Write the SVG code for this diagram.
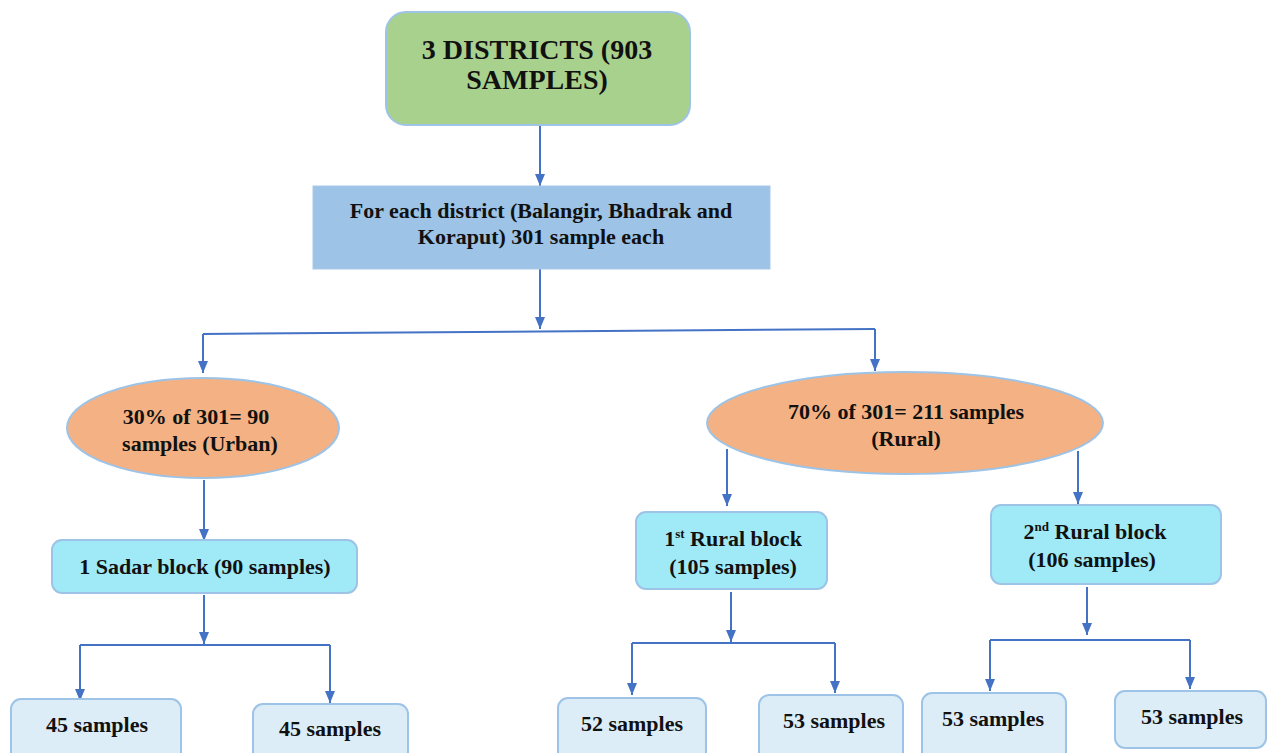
<svg xmlns="http://www.w3.org/2000/svg" width="1267" height="753" viewBox="0 0 1267 753" font-family="'Liberation Serif', Tinos, 'Times New Roman', 'DejaVu Serif', serif">
<style>
text{font-family:"Liberation Serif",Tinos,"Times New Roman","DejaVu Serif",serif;font-weight:bold;fill:#111;text-anchor:middle}
.t1{font-size:28px}
.t2{font-size:22px}
.t3{font-size:22px}
.c{stroke:#4472c4;stroke-width:2;fill:none}
.green{fill:#a9d18e;stroke:#9dc3e6;stroke-width:2}
.blue{fill:#9dc3e6;stroke:#a9c9ea;stroke-width:1}
.oval{fill:#f4b183;stroke:#9dc3e6;stroke-width:2}
.cyan{fill:#a0eaf7;stroke:#9dc3e6;stroke-width:2}
.leaf{fill:#ddedf7;stroke:#9dc3e6;stroke-width:2}
</style>
<defs>
<marker id="ah" viewBox="0 0 12 10" refX="12" refY="5" markerWidth="12" markerHeight="10" orient="auto" markerUnits="userSpaceOnUse">
<path d="M0,0 L12,5 L0,10 Z" fill="#4472c4"/>
</marker>
</defs>
<rect width="1267" height="753" fill="#ffffff"/>
<g id="connectors">
<path class="c" d="M540,126 L540,186" marker-end="url(#ah)"/>
<path class="c" d="M540,269 L540,329" marker-end="url(#ah)"/>
<path class="c" d="M203,334 L875,329"/>
<path class="c" d="M203,334 L203,373" marker-end="url(#ah)"/>
<path class="c" d="M875,329 L875,371" marker-end="url(#ah)"/>
<path class="c" d="M204,480 L204,541" marker-end="url(#ah)"/>
<path class="c" d="M727,449 L727,506" marker-end="url(#ah)"/>
<path class="c" d="M1078,451 L1078,504" marker-end="url(#ah)"/>
<path class="c" d="M204,595 L204,644" marker-end="url(#ah)"/>
<path class="c" d="M80,645 L330,645"/>
<path class="c" d="M80,645 L80,701" marker-end="url(#ah)"/>
<path class="c" d="M330,645 L330,703" marker-end="url(#ah)"/>
<path class="c" d="M731,592 L731,642" marker-end="url(#ah)"/>
<path class="c" d="M632,643 L835,643"/>
<path class="c" d="M632,643 L632,695" marker-end="url(#ah)"/>
<path class="c" d="M835,643 L835,693" marker-end="url(#ah)"/>
<path class="c" d="M1087,587 L1087,635" marker-end="url(#ah)"/>
<path class="c" d="M990,640 L1190,640"/>
<path class="c" d="M990,640 L990,691" marker-end="url(#ah)"/>
<path class="c" d="M1190,640 L1190,689" marker-end="url(#ah)"/>
</g>
<g id="n-districts">
<rect class="green" x="386" y="12" width="304" height="113" rx="20"/>
<text class="t1" x="537" y="59">3 DISTRICTS (903</text>
<text class="t1" x="537" y="89">SAMPLES)</text>
</g>
<g id="n-each">
<rect class="blue" x="313" y="186" width="457" height="83"/>
<text class="t2" x="541" y="218">For each district (Balangir, Bhadrak and</text>
<text class="t2" x="541" y="244">Koraput) 301 sample each</text>
</g>
<g id="n-urban">
<ellipse class="oval" cx="203" cy="428" rx="136" ry="50"/>
<text class="t2" x="196" y="424">30% of 301= 90</text>
<text class="t2" x="200" y="451">samples (Urban)</text>
</g>
<g id="n-rural">
<ellipse class="oval" cx="905" cy="423" rx="198" ry="51"/>
<text class="t2" x="906" y="419">70% of 301= 211 samples</text>
<text class="t2" x="906" y="446">(Rural)</text>
</g>
<g id="n-sadar">
<rect class="cyan" x="52" y="540" width="305" height="53" rx="10"/>
<text class="t2" x="205" y="574">1 Sadar block (90 samples)</text>
</g>
<g id="n-rural1">
<rect class="cyan" x="636" y="512" width="191" height="77" rx="10"/>
<text class="t2" x="733" y="546">1<tspan font-size="13" dy="-8">st</tspan><tspan dy="8"> Rural block</tspan></text>
<text class="t2" x="733" y="574">(105 samples)</text>
</g>
<g id="n-rural2">
<rect class="cyan" x="991" y="505" width="230" height="79" rx="10"/>
<text class="t2" x="1095" y="539">2<tspan font-size="13" dy="-8">nd</tspan><tspan dy="8"> Rural block</tspan></text>
<text class="t2" x="1092" y="567">(106 samples)</text>
</g>
<g id="n-l1">
<rect class="leaf" x="11" y="699" width="170" height="64" rx="10"/>
<text class="t3" x="97" y="732">45 samples</text>
</g>
<g id="n-l2">
<rect class="leaf" x="253" y="704" width="155" height="59" rx="10"/>
<text class="t3" x="330" y="736">45 samples</text>
</g>
<g id="n-l3">
<rect class="leaf" x="558" y="698" width="148" height="65" rx="10"/>
<text class="t3" x="632" y="731">52 samples</text>
</g>
<g id="n-l4">
<rect class="leaf" x="759" y="695" width="144" height="68" rx="10"/>
<text class="t3" x="834" y="728">53 samples</text>
</g>
<g id="n-l5">
<rect class="leaf" x="922" y="693" width="144" height="70" rx="10"/>
<text class="t3" x="993" y="726">53 samples</text>
</g>
<g id="n-l6">
<rect class="leaf" x="1115" y="691" width="151" height="57" rx="10"/>
<text class="t3" x="1192" y="724">53 samples</text>
</g>
</svg>
